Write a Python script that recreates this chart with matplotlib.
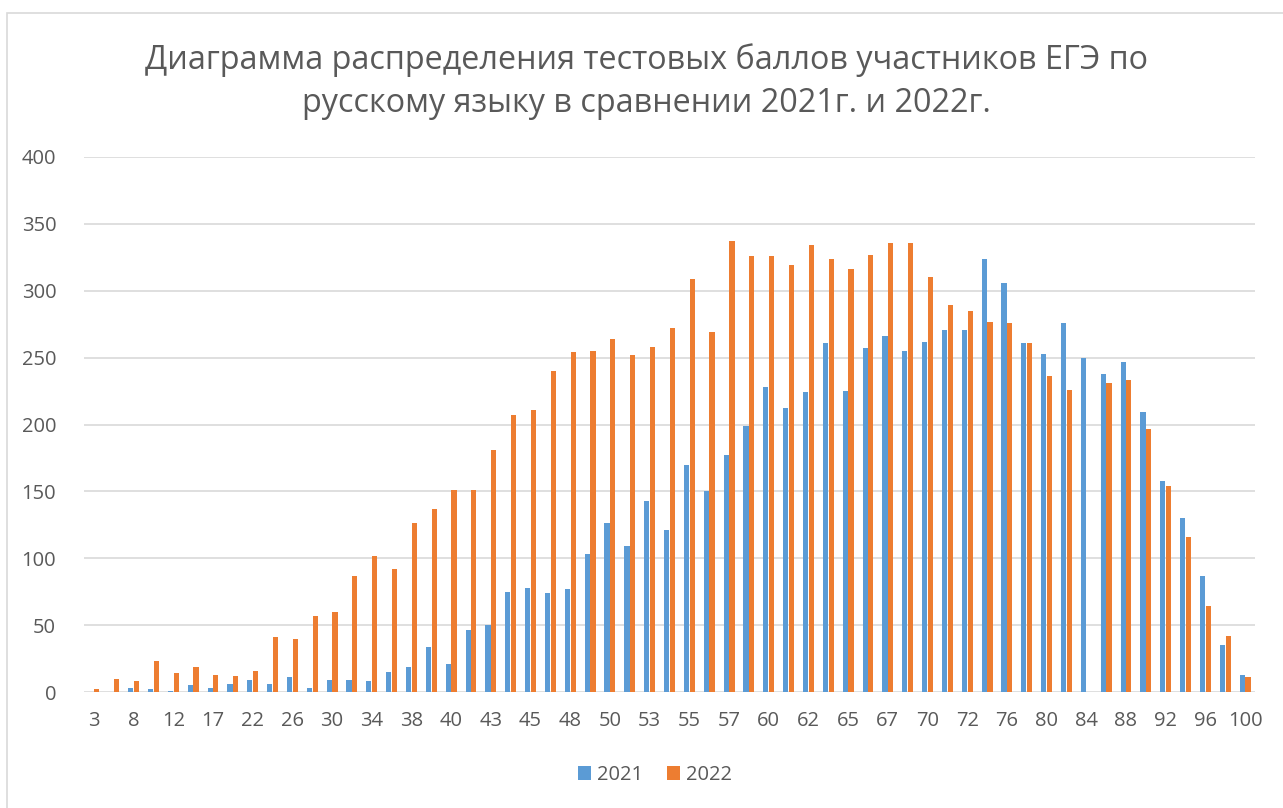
import numpy as np
import matplotlib
matplotlib.use("Agg")
import matplotlib.pyplot as plt
from matplotlib.patches import Rectangle

# test scores (categories)
scores = [3, 5, 8, 10, 12, 15, 17, 20, 22, 24, 26, 28, 30, 32, 34, 36, 38, 39, 40, 42,
          43, 44, 45, 47, 48, 49, 50, 52, 53, 54, 55, 56, 57, 59, 60, 61, 62, 64, 65, 66,
          67, 69, 70, 71, 72, 73, 76, 78, 80, 82, 84, 86, 88, 90, 92, 94, 96, 98, 100]

y2021 = [0, 0, 3, 2, 1, 5, 3, 6, 9, 6, 11, 3, 9, 9, 8, 15, 19, 34, 21, 46,
         50, 75, 78, 74, 77, 103, 126, 109, 143, 121, 170, 150, 177, 199, 228, 212, 224, 261, 225, 257,
         266, 255, 262, 271, 271, 324, 306, 261, 253, 276, 250, 238, 247, 209, 158, 130, 87, 35, 13]

y2022 = [2, 10, 8, 23, 14, 19, 13, 12, 16, 41, 40, 57, 60, 87, 102, 92, 126, 137, 151, 151,
         181, 207, 211, 240, 254, 255, 264, 252, 258, 272, 309, 269, 337, 326, 326, 319, 334, 324, 316, 327,
         336, 336, 310, 289, 285, 277, 276, 261, 236, 226, 0, 231, 233, 197, 154, 116, 64, 42, 11]

series_names = ["2021", "2022"]
colors = ["#5B9BD5", "#ED7D31"]
title = "Диаграмма распределения тестовых баллов участников ЕГЭ по\nрусскому языку в сравнении 2021г. и 2022г."

plt.rcParams['font.family'] = ['Open Sans', 'DejaVu Sans']
txt = "#595959"

fig = plt.figure(figsize=(12.83, 8.08), dpi=100)
ax = fig.add_axes([84 / 1283, 1 - 692 / 808, (1255 - 84) / 1283, (692 - 157) / 808])

x = np.arange(len(scores))
w = 0.26
ax.bar(x - 0.145, y2021, w, color=colors[0], label=series_names[0], zorder=3)
ax.bar(x + 0.145, y2022, w, color=colors[1], label=series_names[1], zorder=3)

ax.set_xlim(-0.5, len(scores) - 0.5)
ax.set_ylim(0, 400)
ax.set_yticks(np.arange(0, 401, 50))
ax.set_xticks(x[::2])
ax.set_xticklabels([str(s) for s in scores[::2]])
ax.tick_params(axis="both", length=0, labelsize=14.5, colors=txt)
ax.tick_params(axis="x", pad=14)
ax.tick_params(axis="y", pad=20)
ax.grid(axis="y", color="#D9D9D9", linewidth=1.2, zorder=0)
for s in ax.spines.values():
    s.set_visible(False)

fig.text(0.504, 1 - 82 / 808, title, ha="center", va="center", fontsize=23.3,
         color=txt, linespacing=1.4)

leg = fig.legend(loc="center", bbox_to_anchor=(655 / 1283, 1 - 775 / 808), ncol=2,
                 frameon=False, fontsize=14.5, handlelength=0.65, handleheight=0.65,
                 handletextpad=0.3, columnspacing=1.2)
for t in leg.get_texts():
    t.set_color(txt)

fig.patches.append(Rectangle((7 / 1283, -0.01), 1.0, 1 - 13 / 808 + 0.01, transform=fig.transFigure,
                             fill=False, edgecolor="#D9D9D9", linewidth=1.2))

fig.savefig("out.png", dpi=100)
